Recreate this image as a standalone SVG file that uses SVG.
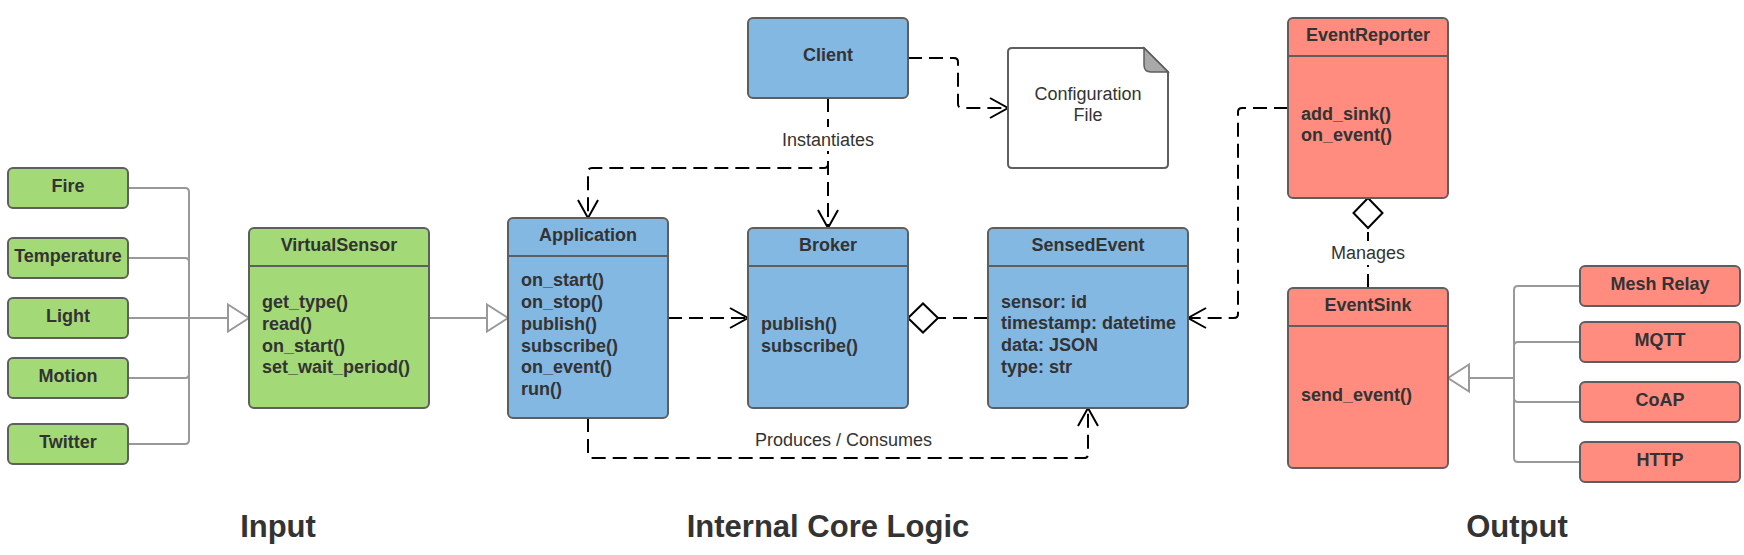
<svg xmlns="http://www.w3.org/2000/svg" width="1744" height="555" viewBox="0 0 1744 555">
<style>
text{font-family:"Liberation Sans",Arial,sans-serif;fill:#333333;}
.b{font-weight:bold;font-size:18px;}
.c{text-anchor:middle;}
.lbl{font-size:18px;}
.ttl{font-weight:bold;font-size:31px;text-anchor:middle;}
.box{stroke:#5e5e5e;stroke-width:2;}
.g{fill:#a3d977;}
.bl{fill:#83b8e3;}
.r{fill:#ff8c7f;}
.sep{stroke:#5e5e5e;stroke-width:2;fill:none;}
.gray{fill:none;stroke:#999999;stroke-width:2;}
.dash{fill:none;stroke:#000000;stroke-width:2;stroke-dasharray:14 7;}
.solid{fill:none;stroke:#000000;stroke-width:2;}
</style>
<defs>
<marker id="open" markerUnits="userSpaceOnUse" markerWidth="30" markerHeight="30" viewBox="-25 -15 30 30" refX="0" refY="0" orient="auto" overflow="visible">
<path d="M-18,-10 L0,0 L-18,10" fill="none" stroke="#000" stroke-width="2" stroke-dasharray="none"/>
</marker>
<marker id="tri" markerUnits="userSpaceOnUse" markerWidth="30" markerHeight="34" viewBox="-25 -17 30 34" refX="0" refY="0" orient="auto" overflow="visible">
<path d="M-21,-13.5 L0,0 L-21,13.5 Z" fill="#ffffff" stroke="#999999" stroke-width="2"/>
</marker>
<marker id="dia" markerUnits="userSpaceOnUse" markerWidth="36" markerHeight="36" viewBox="-33 -18 36 36" refX="0" refY="0" orient="auto" overflow="visible">
<path d="M0,0 L-15,-14.5 L-30,0 L-15,14.5 Z" fill="#ffffff" stroke="#000" stroke-width="2" stroke-dasharray="none"/>
</marker>
</defs>
<rect width="1744" height="555" fill="#ffffff"/>

<g id="connectors">
<!-- input generalization -->
<path class="gray" d="M128,188 H185 Q189,188 189,192 V318"/>
<path class="gray" d="M128,258 H185 Q189,258 189,262 V318"/>
<path class="gray" d="M128,378 H185 Q189,378 189,374 V318"/>
<path class="gray" d="M128,444 H185 Q189,444 189,440 V318"/>
<path class="gray" d="M128,318 H249" marker-end="url(#tri)"/>
<path class="gray" d="M429,318 H508" marker-end="url(#tri)"/>
<!-- output generalization -->
<path class="gray" d="M1580,286 H1518 Q1514,286 1514,290 V378"/>
<path class="gray" d="M1580,342 H1518 Q1514,342 1514,346 V378"/>
<path class="gray" d="M1580,402 H1518 Q1514,402 1514,398 V378"/>
<path class="gray" d="M1580,462 H1518 Q1514,462 1514,458 V378"/>
<path class="gray" d="M1514,378 H1448" marker-end="url(#tri)"/>
<!-- dashed dependencies -->
<path class="dash" d="M908,58 H954 Q958,58 958,62 V104 Q958,108 962,108 H1008" marker-end="url(#open)"/>
<path class="dash" d="M828,98 V164 Q828,168 824,168 H592 Q588,168 588,172 V218" marker-end="url(#open)"/>
<path class="dash" d="M828,98 V228" marker-end="url(#open)"/>
<path class="dash" d="M668,318 H748" marker-end="url(#open)"/>
<path class="dash" d="M588,418 V454 Q588,458 592,458 H1084 Q1088,458 1088,454 V408" marker-end="url(#open)"/>
<path class="dash" d="M988,318 H908" marker-end="url(#dia)"/>
<path class="dash" d="M1288,108 H1242 Q1238,108 1238,112 V314 Q1238,318 1234,318 H1188" marker-end="url(#open)"/>
<path class="dash" d="M1368,288 V198" marker-end="url(#dia)"/>
<!-- labels -->
<rect x="780" y="127" width="96" height="24" fill="#ffffff"/>
<text class="lbl c" x="828" y="146">Instantiates</text>
<rect x="1330" y="241" width="76" height="24" fill="#ffffff"/>
<text class="lbl c" x="1368" y="259">Manages</text>
<text class="lbl c" x="843.5" y="446">Produces / Consumes</text>
</g>

<g id="fire"><rect class="box g" x="8" y="168" width="120" height="40" rx="5"/><text class="b c" x="68" y="192">Fire</text></g>
<g id="temperature"><rect class="box g" x="8" y="238" width="120" height="40" rx="5"/><text class="b c" x="68" y="262">Temperature</text></g>
<g id="light"><rect class="box g" x="8" y="298" width="120" height="40" rx="5"/><text class="b c" x="68" y="322">Light</text></g>
<g id="motion"><rect class="box g" x="8" y="358" width="120" height="40" rx="5"/><text class="b c" x="68" y="382">Motion</text></g>
<g id="twitter"><rect class="box g" x="8" y="424" width="120" height="40" rx="5"/><text class="b c" x="68" y="448">Twitter</text></g>

<g id="virtualsensor">
<rect class="box g" x="249" y="228" width="180" height="180" rx="5"/>
<line class="sep" x1="249" y1="266" x2="429" y2="266"/>
<text class="b c" x="339" y="251">VirtualSensor</text>
<text class="b" x="262" y="308">get_type()</text>
<text class="b" x="262" y="330">read()</text>
<text class="b" x="262" y="351.5">on_start()</text>
<text class="b" x="262" y="373">set_wait_period()</text>
</g>

<g id="client">
<rect class="box bl" x="748" y="18" width="160" height="80" rx="5"/>
<text class="b c" x="828" y="61">Client</text>
</g>

<g id="configfile">
<path d="M1012,48 H1144 L1168,72 V164 Q1168,168 1164,168 H1012 Q1008,168 1008,164 V52 Q1008,48 1012,48 Z" fill="#ffffff" stroke="#5e5e5e" stroke-width="2"/>
<path d="M1144,48 L1168,72 H1151 Q1144,72 1144,65 Z" fill="#a9a9a9" stroke="#5e5e5e" stroke-width="1.5"/>
<text class="lbl c" x="1088" y="100">Configuration</text>
<text class="lbl c" x="1088" y="121">File</text>
</g>

<g id="application">
<rect class="box bl" x="508" y="218" width="160" height="200" rx="5"/>
<line class="sep" x1="508" y1="256" x2="668" y2="256"/>
<text class="b c" x="588" y="241">Application</text>
<text class="b" x="521" y="286">on_start()</text>
<text class="b" x="521" y="308">on_stop()</text>
<text class="b" x="521" y="330">publish()</text>
<text class="b" x="521" y="351.5">subscribe()</text>
<text class="b" x="521" y="373">on_event()</text>
<text class="b" x="521" y="395">run()</text>
</g>

<g id="broker">
<rect class="box bl" x="748" y="228" width="160" height="180" rx="5"/>
<line class="sep" x1="748" y1="266" x2="908" y2="266"/>
<text class="b c" x="828" y="250.5">Broker</text>
<text class="b" x="761" y="330">publish()</text>
<text class="b" x="761" y="352">subscribe()</text>
</g>

<g id="sensedevent">
<rect class="box bl" x="988" y="228" width="200" height="180" rx="5"/>
<line class="sep" x1="988" y1="266" x2="1188" y2="266"/>
<text class="b c" x="1088" y="250.5">SensedEvent</text>
<text class="b" x="1001" y="307.5">sensor: id</text>
<text class="b" x="1001" y="329">timestamp: datetime</text>
<text class="b" x="1001" y="351">data: JSON</text>
<text class="b" x="1001" y="373">type: str</text>
</g>

<g id="eventreporter">
<rect class="box r" x="1288" y="18" width="160" height="180" rx="5"/>
<line class="sep" x1="1288" y1="56" x2="1448" y2="56"/>
<text class="b c" x="1368" y="41">EventReporter</text>
<text class="b" x="1301" y="119.5">add_sink()</text>
<text class="b" x="1301" y="141">on_event()</text>
</g>

<g id="eventsink">
<rect class="box r" x="1288" y="288" width="160" height="180" rx="5"/>
<line class="sep" x1="1288" y1="326" x2="1448" y2="326"/>
<text class="b c" x="1368" y="311">EventSink</text>
<text class="b" x="1301" y="401">send_event()</text>
</g>

<g id="meshrelay"><rect class="box r" x="1580" y="266" width="160" height="40" rx="5"/><text class="b c" x="1660" y="290">Mesh Relay</text></g>
<g id="mqtt"><rect class="box r" x="1580" y="322" width="160" height="40" rx="5"/><text class="b c" x="1660" y="346">MQTT</text></g>
<g id="coap"><rect class="box r" x="1580" y="382" width="160" height="40" rx="5"/><text class="b c" x="1660" y="406">CoAP</text></g>
<g id="http"><rect class="box r" x="1580" y="442" width="160" height="40" rx="5"/><text class="b c" x="1660" y="466">HTTP</text></g>

<g id="titles">
<text class="ttl" x="278" y="537">Input</text>
<text class="ttl" x="828" y="537">Internal Core Logic</text>
<text class="ttl" x="1517" y="537">Output</text>
</g>
</svg>
